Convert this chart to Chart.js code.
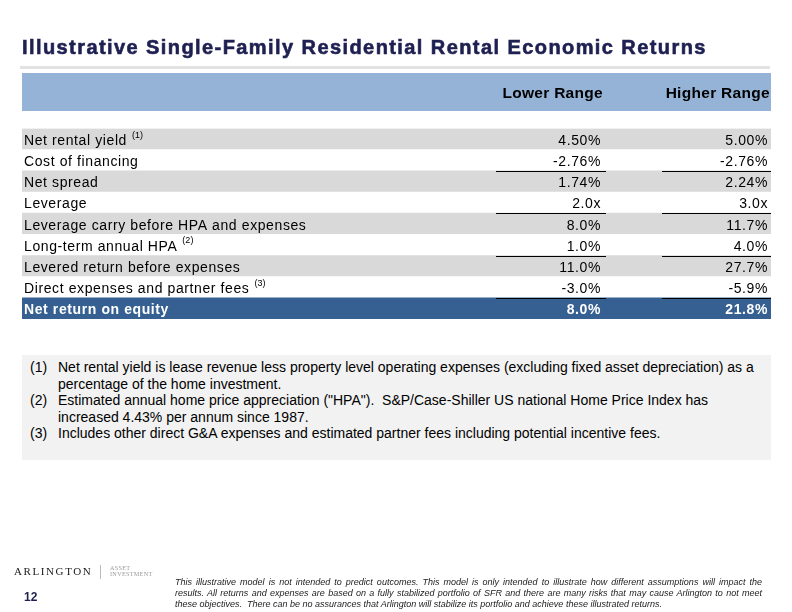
<!DOCTYPE html>
<html>
<head>
<meta charset="utf-8">
<script src="https://cdn.jsdelivr.net/npm/chart.js@4.4.1/dist/chart.umd.min.js"></script>
<style>
  html, body { margin:0; padding:0; background:#fff; }
  body { width:792px; height:612px; position:relative; overflow:hidden; font-family:"Liberation Sans", Arial, sans-serif; }
  .abs { position:absolute; white-space:nowrap; }
  #chart { position:absolute; left:0; top:0; }
  #title { left:22px; top:37px; font-size:20px; line-height:20px; font-weight:bold; color:#1f2052; letter-spacing:1.42px; -webkit-text-stroke:0.6px #1f2052; }
  #rule { left:20px; top:66px; width:750px; height:3px; background:#e3e3e3; }
  #header { left:22px; top:73px; width:749px; height:38px; background:#95b3d7; }
  .hdr { position:absolute; top:12px; font-size:15.5px; line-height:16px; font-weight:bold; color:#000; letter-spacing:0.3px; }
  #notes { left:22px; top:355px; width:749px; height:105px; background:#f2f2f2; }
  .nline { position:absolute; font-size:14px; line-height:14px; color:#000; white-space:pre; }
  #logo { left:14px; top:566px; font-family:"Liberation Serif", "Times New Roman", serif; font-size:11px; line-height:11px; letter-spacing:1.6px; color:#1a1a1a; }
  #sep { left:100px; top:565px; width:1px; height:14px; background:#bbb; }
  .asset { font-family:"Liberation Serif", serif; font-size:6.2px; line-height:6px; color:#9a9a9a; letter-spacing:0.3px; }
  #page { left:24px; top:591px; font-size:12px; line-height:12px; font-weight:bold; color:#1f2052; }
  .disc { position:absolute; left:175px; width:587px; font-size:9px; line-height:10px; font-style:italic; color:#222; white-space:pre; }
  .just { text-align:justify; text-align-last:justify; white-space:normal; }
</style>
</head>
<body>
<canvas id="chart" width="792" height="612"></canvas>
<div class="abs" id="title"></div>
<div class="abs" id="rule"></div>
<div class="abs" id="header"></div>
<div class="abs" id="notes"></div>
<div class="abs" id="logo">ARLINGTON</div>
<div class="abs" id="sep"></div>
<div class="abs asset" style="left:110px;top:565px;">ASSET</div>
<div class="abs asset" style="left:110px;top:571px;">INVESTMENT</div>
<div class="abs" id="page">12</div>
<div id="disc"></div>
<script>
// ---------- data ----------
const chartTitle = 'Illustrative Single-Family Residential Rental Economic Returns';
const columnHeaders = ['Lower Range', 'Higher Range'];
const rowLabels = [
  'Net rental yield',
  'Cost of financing',
  'Net spread',
  'Leverage',
  'Leverage carry before HPA and expenses',
  'Long-term annual HPA',
  'Levered return before expenses',
  'Direct expenses and partner fees',
  'Net return on equity'
];
const rowNoteRefs = ['(1)', '', '', '', '', '(2)', '', '(3)', ''];
const lowerRange  = [4.50, -2.76, 1.74, 2.0, 8.0, 1.0, 11.0, -3.0, 8.0];
const higherRange = [5.00, -2.76, 2.24, 3.0, 11.7, 4.0, 27.7, -5.9, 21.8];
const valueUnits    = ['%', '%', '%', 'x', '%', '%', '%', '%', '%'];
const valueDecimals = [2, 2, 2, 1, 1, 1, 1, 1, 1];
const footnotes = [
  ['(1)', ['Net rental yield is lease revenue less property level operating expenses (excluding fixed asset depreciation) as a',
           'percentage of the home investment.']],
  ['(2)', ['Estimated annual home price appreciation ("HPA").  S&P/Case-Shiller US national Home Price Index has',
           'increased 4.43% per annum since 1987.']],
  ['(3)', ['Includes other direct G&A expenses and estimated partner fees including potential incentive fees.']]
];
const disclaimer = [
  'This illustrative model is not intended to predict outcomes.  This model is only intended to illustrate how different assumptions will impact the',
  'results.  All returns and expenses are based on a fully stabilized portfolio of SFR and there are many risks that may cause Arlington to not meet',
  'these objectives.  There can be no assurances that Arlington will stabilize its portfolio and achieve these illustrated returns.'
];

// ---------- styles ----------
const rowStyle = ['shade', 'plain', 'shade', 'plain', 'shade', 'plain', 'shade', 'plain', 'total'];
const underlineAfter = [false, true, false, true, false, true, false, true, false];
const fills = { shade: '#d9d9d9', plain: '#ffffff', total: '#366092' };

// ---------- static text ----------
document.getElementById('title').textContent = chartTitle;
const hdr = document.getElementById('header');
[[792 - 603 - 21, columnHeaders[0]], [792 - 770 - 21, columnHeaders[1]]].forEach(([r, t]) => {
  const s = document.createElement('div');
  s.className = 'hdr'; s.style.right = r + 'px'; s.textContent = t;
  hdr.appendChild(s);
});
const notesBox = document.getElementById('notes');
let ny = 5;
footnotes.forEach(([num, lines]) => {
  const n = document.createElement('div');
  n.className = 'nline'; n.style.left = '8px'; n.style.top = ny + 'px'; n.textContent = num;
  notesBox.appendChild(n);
  lines.forEach(l => {
    const d = document.createElement('div');
    d.className = 'nline'; d.style.left = '36px'; d.style.top = ny + 'px'; d.textContent = l;
    notesBox.appendChild(d);
    ny += 16.6;
  });
});
const disc = document.getElementById('disc');
disclaimer.forEach((l, i) => {
  const d = document.createElement('div');
  d.className = 'disc' + (i < disclaimer.length - 1 ? ' just' : '');
  d.style.top = (577 + i * 11) + 'px';
  d.textContent = l;
  disc.appendChild(d);
});

// ---------- table via Chart.js ----------
function fmt(v, i) { return v.toFixed(valueDecimals[i]) + valueUnits[i]; }

const tableText = {
  id: 'tableText',
  afterDatasetsDraw(chart) {
    const { ctx, chartArea, scales } = chart;
    const y = scales.y;
    const rowH = (chartArea.bottom - chartArea.top) / rowLabels.length;
    const colRight = [chartArea.right - 170, chartArea.right - 3];
    const lineSpan = [[chartArea.right - 275, chartArea.right - 165], [chartArea.right - 109, chartArea.right]];
    ctx.save();
    ctx.textBaseline = 'middle';
    if ('letterSpacing' in ctx) ctx.letterSpacing = '0.6px';
    rowLabels.forEach((lab, i) => {
      const yc = y.getPixelForValue(i) + 2;
      const total = rowStyle[i] === 'total';
      ctx.fillStyle = total ? '#ffffff' : '#000000';
      ctx.font = (total ? 'bold ' : '') + '14px "Liberation Sans", Arial, sans-serif';
      ctx.textAlign = 'left';
      ctx.fillText(lab, chartArea.left + 2, yc);
      const w = ctx.measureText(lab).width;
      if (rowNoteRefs[i]) {
        ctx.save();
        ctx.font = '9px "Liberation Sans", Arial, sans-serif';
        if ('letterSpacing' in ctx) ctx.letterSpacing = '0px';
        ctx.fillText(rowNoteRefs[i], chartArea.left + 2 + w + 5, yc - 6);
        ctx.restore();
      }
      ctx.textAlign = 'right';
      ctx.fillText(fmt(lowerRange[i], i), colRight[0], yc);
      ctx.fillText(fmt(higherRange[i], i), colRight[1], yc);
      if (underlineAfter[i]) {
        const yb = Math.round(y.getPixelForValue(i) + rowH / 2) + 0.5;
        ctx.strokeStyle = '#000';
        ctx.lineWidth = 1;
        lineSpan.forEach(([a, b]) => { ctx.beginPath(); ctx.moveTo(a, yb); ctx.lineTo(b, yb); ctx.stroke(); });
      }
    });
    ctx.restore();
  }
};

new Chart(document.getElementById('chart'), {
  type: 'bar',
  data: {
    labels: rowLabels,
    datasets: [{
      data: rowLabels.map(() => [0, 1]),
      backgroundColor: rowStyle.map(s => fills[s]),
      borderWidth: 0,
      barPercentage: 1,
      categoryPercentage: 1
    }]
  },
  options: {
    indexAxis: 'y',
    responsive: false,
    devicePixelRatio: 1,
    animation: false,
    layout: { padding: { left: 22, right: 21, top: 128.5, bottom: 293 } },
    plugins: { legend: { display: false }, tooltip: { enabled: false } },
    scales: {
      x: { display: false, min: 0, max: 1 },
      y: { display: false, grid: { display: false } }
    }
  },
  plugins: [tableText]
});
</script>
</body>
</html>
